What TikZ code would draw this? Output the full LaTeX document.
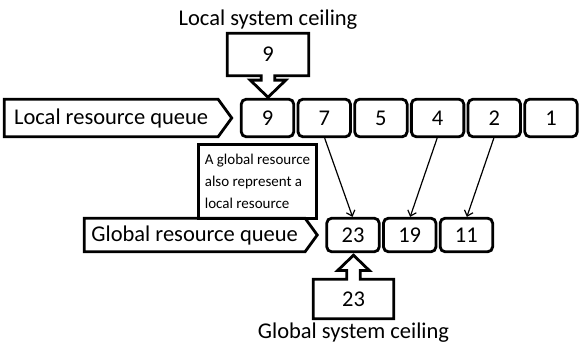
\documentclass[tikz,border=0pt]{standalone}
\usepackage{fontspec}
\setmainfont{Carlito}
\usepackage{tikz}
\usetikzlibrary{positioning,shapes.symbols,shapes.arrows,arrows.meta}

\begin{document}
\begin{tikzpicture}[x=1pt,y=-1pt]
\tikzstyle{cell}=[rectangle, draw=black, line width=2.8pt, rounded corners=5pt, minimum width=52.5pt, inner sep=0pt, outer sep=0pt, font=\fontsize{22.5}{27}\selectfont, node distance=4.2pt]
\tikzstyle{lcell}=[cell, minimum height=37.6pt]
\tikzstyle{gcell}=[cell, minimum height=33.6pt]
\tikzstyle{queue}=[signal, signal to=east, signal pointer angle=108, draw=black, line width=2.8pt, inner sep=0pt, outer sep=0pt, font=\fontsize{22.5}{27}\selectfont]
\tikzstyle{ceiling}=[arrow box, draw=black, line width=2.8pt, inner sep=0pt, outer sep=0pt, arrow box shaft width=13.6pt, arrow box tip angle=92, font=\fontsize{22.5}{27}\selectfont]
\tikzstyle{title}=[inner sep=0pt, outer sep=0pt, font=\fontsize{22.5}{27}\selectfont]
\tikzstyle{note}=[rectangle, draw=black, line width=2.8pt, align=left, minimum width=118.6pt, minimum height=74.6pt, font=\fontsize{15}{22}\selectfont]
\tikzstyle{connect}=[-{Straight Barb[length=5pt,width=9pt]}, line width=1.2pt, shorten >=1.4pt, shorten <=1.4pt]
  \useasboundingbox (0,0) rectangle (579,343);
  % local queue
  \node[lcell] (lnine) at (267.5,118) {9};
  \node[lcell] (lseven) [right=of lnine] {7};
  \node[lcell] (lfive) [right=of lseven] {5};
  \node[lcell] (lfour) [right=of lfive] {4};
  \node[lcell] (ltwo) [right=of lfour] {2};
  \node[lcell] (lone) [right=of ltwo] {1};
  \node[queue, minimum width=227.6pt, minimum height=37.6pt] (lqueue) [left=9.5pt of lnine] {Local resource queue};
  % global queue
  \node[gcell] (gtwentythree) at (353,235) {23};
  \node[gcell] (gnineteen) [right=of gtwentythree] {19};
  \node[gcell] (geleven) [right=of gnineteen] {11};
  \node[queue, minimum width=233pt, minimum height=33.6pt] (gqueue) [left=9.5pt of gtwentythree] {Global resource queue};
  % ceilings
  \node[ceiling, minimum width=81.6pt, minimum height=42.6pt, arrow box head extend=11pt, arrow box arrows={south:21.5pt}] (lceil) at (268,54.5) {9};
  \node[title] (ltitle) [above=4pt of lceil] {Local system ceiling};
  \node[ceiling, minimum width=80.6pt, minimum height=39.6pt, arrow box head extend=9pt, arrow box arrows={north:24pt}] (gceil) at (353.5,299) {23};
  \node[title] (gtitle) [below=4pt of gceil] {Global system ceiling};
  \node[note] (remark) at (257.5,181.5) {A global resource\\also represent a\\local resource};
  \path (lseven.south) edge [connect] (gtwentythree.north)
        (lfour.south) edge [connect] (gnineteen.north)
        (ltwo.south) edge [connect] (geleven.north);
\end{tikzpicture}
\end{document}
